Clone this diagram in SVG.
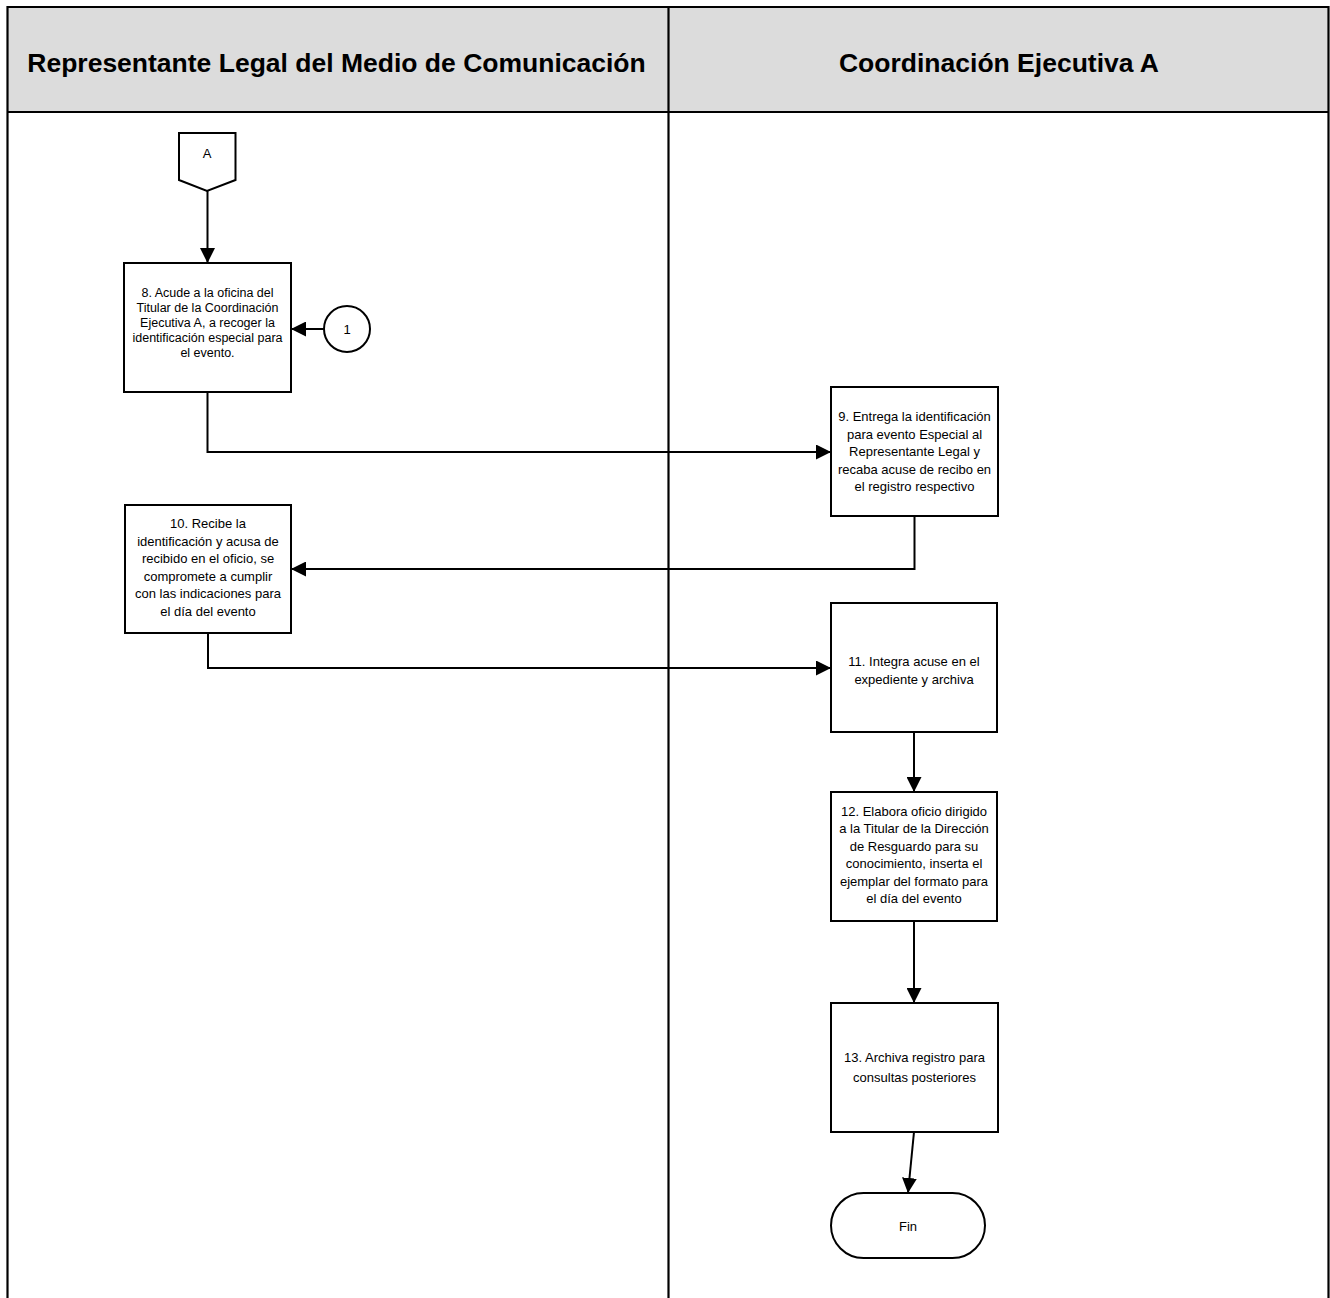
<svg xmlns="http://www.w3.org/2000/svg" width="1330" height="1298" viewBox="0 0 1330 1298">
  <style>
    .lane { fill: none; stroke: #000; stroke-width: 2.2; }
    .head { fill: #dcdcdc; stroke: none; }
    .htxt { font-family: "Liberation Sans", Arial, sans-serif; font-weight: bold; font-size: 26.5px; text-anchor: middle; fill: #000; }
    .box { fill: #fff; stroke: #000; stroke-width: 2; }
    .txt { font-family: "Liberation Sans", Arial, sans-serif; font-size: 13px; text-anchor: middle; fill: #000; }
    .t8 { font-size: 12.5px; }
    .conn { fill: none; stroke: #000; stroke-width: 2; }
  </style>
  <defs>
    <marker id="arrow" markerUnits="userSpaceOnUse" markerWidth="15" markerHeight="15" refX="15" refY="7.5" orient="auto">
      <path d="M0,0 L15,7.5 L0,15 Z" fill="#000"/>
    </marker>
  </defs>

  <!-- swimlane frame -->
  <g id="lanes">
    <rect class="head" x="8" y="7" width="1320" height="105"/>
    <line class="lane" x1="7.5" y1="7" x2="1328.5" y2="7"/>
    <line class="lane" x1="7.5" y1="6" x2="7.5" y2="1298"/>
    <line class="lane" x1="1328.5" y1="6" x2="1328.5" y2="1298"/>
    <line class="lane" x1="668.5" y1="7" x2="668.5" y2="1298"/>
    <line class="lane" x1="7.5" y1="112" x2="1328.5" y2="112"/>
    <text class="htxt" x="336.5" y="71.5">Representante Legal del Medio de Comunicación</text>
    <text class="htxt" x="999" y="71.5">Coordinación Ejecutiva A</text>
  </g>

  <!-- connectors -->
  <g id="connectors">
    <line class="conn" x1="207.5" y1="191" x2="207.5" y2="263" marker-end="url(#arrow)"/>
    <line class="conn" x1="324" y1="329" x2="291" y2="329" marker-end="url(#arrow)"/>
    <polyline class="conn" points="207.5,392 207.5,452 831,452" marker-end="url(#arrow)"/>
    <polyline class="conn" points="914.5,516 914.5,569 291,569" marker-end="url(#arrow)"/>
    <polyline class="conn" points="208,633 208,668 831,668" marker-end="url(#arrow)"/>
    <line class="conn" x1="914" y1="732" x2="914" y2="792" marker-end="url(#arrow)"/>
    <line class="conn" x1="914" y1="921" x2="914" y2="1003" marker-end="url(#arrow)"/>
    <line class="conn" x1="914" y1="1132" x2="908" y2="1193" marker-end="url(#arrow)"/>
  </g>

  <!-- off-page connector A -->
  <g id="nodeA">
    <path class="box" d="M179,133 L235.5,133 L235.5,180 L207,191 L179,180 Z"/>
    <text class="txt" x="207" y="158">A</text>
  </g>

  <!-- on-page connector 1 -->
  <g id="node1">
    <circle class="box" cx="347" cy="329" r="23"/>
    <text class="txt" x="347" y="333.5">1</text>
  </g>

  <g id="step8">
    <rect class="box" x="124" y="263" width="167" height="129"/>
    <text class="txt t8" x="207.5" y="297">8. Acude a la oficina del</text>
    <text class="txt t8" x="207.5" y="312">Titular de la Coordinación</text>
    <text class="txt t8" x="207.5" y="327">Ejecutiva A, a recoger la</text>
    <text class="txt t8" x="207.5" y="342">identificación especial para</text>
    <text class="txt t8" x="207.5" y="357">el evento.</text>
  </g>

  <g id="step9">
    <rect class="box" x="831" y="387" width="167" height="129"/>
    <text class="txt" x="914.5" y="421.3">9. Entrega la identificación</text>
    <text class="txt" x="914.5" y="438.8">para evento Especial al</text>
    <text class="txt" x="914.5" y="456.3">Representante Legal y</text>
    <text class="txt" x="914.5" y="473.8">recaba acuse de recibo en</text>
    <text class="txt" x="914.5" y="491.3">el registro respectivo</text>
  </g>

  <g id="step10">
    <rect class="box" x="125" y="505" width="166" height="128"/>
    <text class="txt" x="208" y="528">10. Recibe la</text>
    <text class="txt" x="208" y="545.5">identificación y acusa de</text>
    <text class="txt" x="208" y="563">recibido en el oficio, se</text>
    <text class="txt" x="208" y="580.5">compromete a cumplir</text>
    <text class="txt" x="208" y="598">con las indicaciones para</text>
    <text class="txt" x="208" y="615.5">el día del evento</text>
  </g>

  <g id="step11">
    <rect class="box" x="831" y="603" width="166" height="129"/>
    <text class="txt" x="914" y="666.3">11. Integra acuse en el</text>
    <text class="txt" x="914" y="683.9">expediente y archiva</text>
  </g>

  <g id="step12">
    <rect class="box" x="831" y="792" width="166" height="129"/>
    <text class="txt" x="914" y="815.6">12. Elabora oficio dirigido</text>
    <text class="txt" x="914" y="833.1">a la Titular de la Dirección</text>
    <text class="txt" x="914" y="850.6">de Resguardo para su</text>
    <text class="txt" x="914" y="868.1">conocimiento, inserta el</text>
    <text class="txt" x="914" y="885.6">ejemplar del formato para</text>
    <text class="txt" x="914" y="903.1">el día del evento</text>
  </g>

  <g id="step13">
    <rect class="box" x="831" y="1003" width="167" height="129"/>
    <text class="txt" x="914.5" y="1062">13. Archiva registro para</text>
    <text class="txt" x="914.5" y="1082">consultas posteriores</text>
  </g>

  <g id="fin">
    <rect class="box" x="831" y="1193" width="154" height="65" rx="32.5" ry="32.5"/>
    <text class="txt" x="908" y="1230.6">Fin</text>
  </g>
</svg>
